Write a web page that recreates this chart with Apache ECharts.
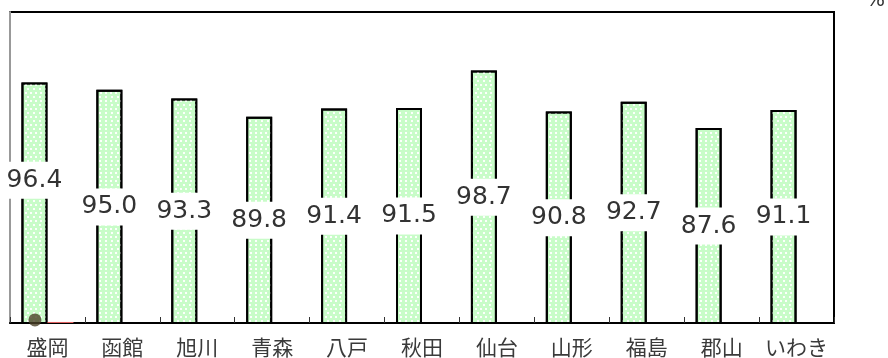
<!DOCTYPE html>
<html>
<head>
<meta charset="utf-8">
<script src="https://cdn.jsdelivr.net/npm/echarts@6/dist/echarts.min.js"></script>
<style>
  html, body { margin: 0; padding: 0; background: #fff; }
  #chart { width: 888px; height: 358px; }
</style>
</head>
<body>
<div id="chart"></div>
<script>
// Cities along the horizontal axis
const cities = ['盛岡', '函館', '旭川', '青森', '八戸', '秋田', '仙台', '山形', '福島', '郡山', 'いわき'];
// Rate per city (%)
const rates = [96.4, 95.0, 93.3, 89.8, 91.4, 91.5, 98.7, 90.8, 92.7, 87.6, 91.1];
// Companion series: only the first city carries a (near-baseline) value
const companion = [50.2, null, null, null, null, null, null, null, null, null, null];
// Marker point on the first city
const marker = [50.6, null, null, null, null, null, null, null, null, null, null];

const yMin = 50, yMax = 110;

const chart = echarts.init(document.getElementById('chart'), null, { renderer: 'canvas' });

chart.setOption({
  animation: false,
  backgroundColor: '#ffffff',
  grid: {
    left: 10, right: 54, top: 12, bottom: 35,
    show: true,
    borderColor: '#000000',
    borderWidth: 2,
    backgroundColor: 'transparent'
  },
  xAxis: {
    type: 'category',
    data: cities,
    axisLine: { lineStyle: { color: '#000000', width: 2 } },
    axisTick: { show: true, inside: true, length: 6, lineStyle: { color: '#333333', width: 1 } },
    axisLabel: {
      interval: 0,
      margin: 14,
      fontSize: 21,
      color: '#3a3a3a',
      fontFamily: '"Noto Sans CJK JP", sans-serif'
    }
  },
  yAxis: {
    type: 'value',
    min: yMin,
    max: yMax,
    axisLine: { show: true, lineStyle: { color: '#999999', width: 2 } },
    axisTick: { show: false },
    axisLabel: { show: false },
    splitLine: { show: false }
  },
  graphic: [
    {
      type: 'text',
      left: 866,
      top: -9,
      style: { text: '%', fontSize: 20, fill: '#333333', fontFamily: 'DejaVu Sans' }
    }
  ],
  series: [
    {
      type: 'bar',
      data: rates.map((v, i) => i === 0
        ? { value: v, label: { offset: [0, -23] } }
        : v),
      barWidth: 26,
      barGap: '0%',
      itemStyle: {
        color: '#c8fcc8',
        borderColor: '#000000',
        borderWidth: 2,
        decal: {
          symbol: 'rect',
          symbolSize: 1,
          color: 'rgba(255,255,255,0.95)',
          dashArrayX: [[1.5, 3], [0, 2.25, 1.5, 0.75]],
          dashArrayY: [1.5, 1.5]
        }
      },
      label: {
        show: true,
        position: 'inside',
        formatter: p => p.value.toFixed(1),
        fontFamily: 'DejaVu Sans',
        fontSize: 25,
        color: '#333333',
        backgroundColor: '#ffffff',
        padding: [6, 2]
      },
      z: 2
    },
    {
      type: 'bar',
      data: companion,
      barWidth: 26,
      itemStyle: { color: '#e06060' },
      z: 3
    },
    {
      type: 'scatter',
      data: marker,
      symbol: 'circle',
      symbolSize: 13,
      symbolOffset: [-12.5, 0],
      itemStyle: { color: '#4b4128' },
      z: 5
    }
  ]
});
</script>
</body>
</html>
